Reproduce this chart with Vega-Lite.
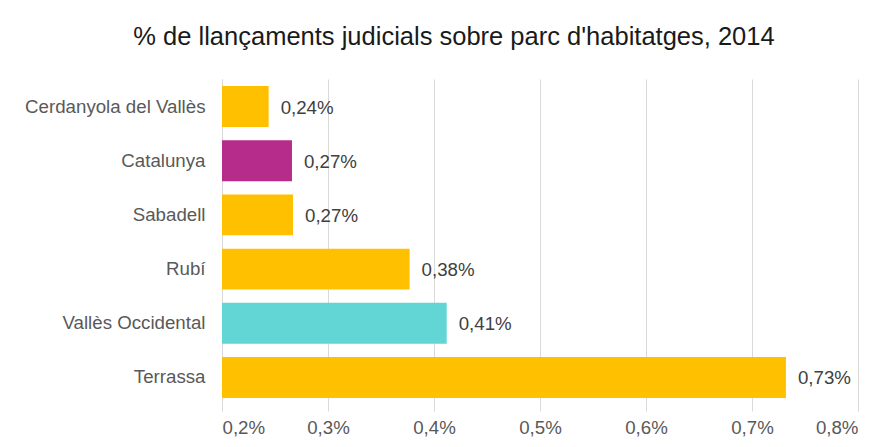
{
  "$schema": "https://vega.github.io/schema/vega-lite/v6.json",
  "width": 636,
  "height": 326,
  "autosize": {"type": "none"},
  "padding": {"left": 222, "top": 79, "right": 31, "bottom": 42},
  "background": "white",
  "config": {
    "font": "Liberation Sans",
    "view": {"stroke": null},
    "locale": {
      "number": {"decimal": ",", "thousands": ".", "grouping": [3], "currency": ["", " €"]}
    }
  },
  "title": {
    "text": "% de llançaments judicials sobre parc d'habitatges, 2014",
    "font": "Liberation Sans",
    "fontSize": 25.5,
    "fontWeight": "normal",
    "color": "#1a1a1a",
    "anchor": "middle",
    "dx": -86,
    "baseline": "alphabetic",
    "offset": 9
  },
  "data": {
    "values": [
      {"territori": "Cerdanyola del Vallès", "valor": 0.00244, "tipus": "municipi"},
      {"territori": "Catalunya", "valor": 0.00266, "tipus": "catalunya"},
      {"territori": "Sabadell", "valor": 0.00267, "tipus": "municipi"},
      {"territori": "Rubí", "valor": 0.00377, "tipus": "municipi"},
      {"territori": "Vallès Occidental", "valor": 0.00412, "tipus": "comarca"},
      {"territori": "Terrassa", "valor": 0.00732, "tipus": "municipi"}
    ]
  },
  "encoding": {
    "y": {
      "field": "territori",
      "type": "nominal",
      "sort": null,
      "scale": {"paddingInner": 0.245, "paddingOuter": 0.13},
      "axis": {
        "title": null,
        "ticks": false,
        "domain": true,
        "domainColor": "#D9D9D9",
        "domainWidth": 1,
        "labelFont": "Liberation Sans",
        "labelFontSize": 18.7,
        "labelColor": "#595959",
        "labelPadding": 17,
        "labelLimit": 400
      }
    },
    "x": {
      "field": "valor",
      "type": "quantitative",
      "scale": {"domain": [0.002, 0.008], "nice": false, "zero": false},
      "axis": {
        "title": null,
        "format": ".1%",
        "values": [0.002, 0.003, 0.004, 0.005, 0.006, 0.007, 0.008],
        "grid": true,
        "gridColor": "#D9D9D9",
        "gridWidth": 1,
        "domain": false,
        "ticks": true,
        "tickColor": "#D9D9D9",
        "tickSize": 6,
        "labelFont": "Liberation Sans",
        "labelFontSize": 18.7,
        "labelColor": "#595959",
        "labelPadding": 7
      }
    }
  },
  "layer": [
    {
      "mark": {"type": "bar", "clip": true},
      "encoding": {
        "color": {
          "field": "tipus",
          "type": "nominal",
          "scale": {
            "domain": ["municipi", "catalunya", "comarca"],
            "range": ["#FFC000", "#B52C8A", "#62D6D5"]
          },
          "legend": null
        }
      }
    },
    {
      "mark": {
        "type": "text",
        "align": "left",
        "baseline": "middle",
        "dx": 12,
        "dy": 1,
        "font": "Liberation Sans",
        "fontSize": 18.7,
        "color": "#404040"
      },
      "encoding": {
        "text": {"field": "valor", "type": "quantitative", "format": ".2%"}
      }
    }
  ]
}
